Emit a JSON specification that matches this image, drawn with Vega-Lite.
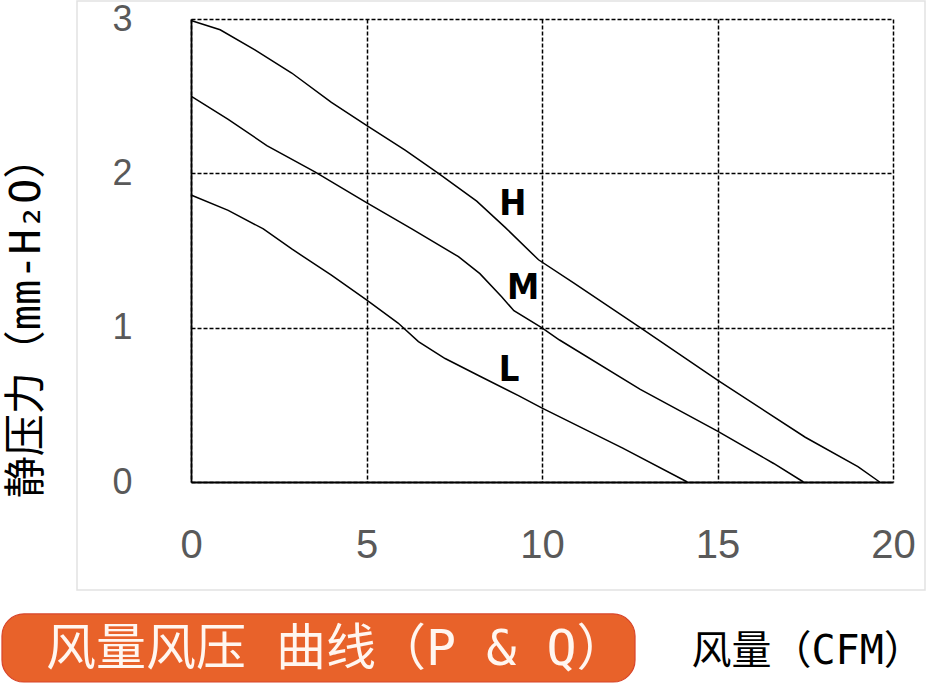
{
  "$schema": "https://vega.github.io/schema/vega-lite/v6.json",
  "width": 702,
  "height": 463,
  "autosize": {"type": "none"},
  "padding": {"left": 191, "top": 19, "right": 34, "bottom": 201},
  "background": "white",
  "config": {"view": {"stroke": null}},
  "datasets": {
    "curves": [
      {"series": "H", "q": 0, "p": 2.99},
      {"series": "H", "q": 0.83, "p": 2.93},
      {"series": "H", "q": 1.82, "p": 2.8},
      {"series": "H", "q": 2.87, "p": 2.65},
      {"series": "H", "q": 4.0, "p": 2.46},
      {"series": "H", "q": 5.0, "p": 2.31},
      {"series": "H", "q": 6.1, "p": 2.15},
      {"series": "H", "q": 7.05, "p": 2.0},
      {"series": "H", "q": 8.14, "p": 1.82},
      {"series": "H", "q": 8.95, "p": 1.65},
      {"series": "H", "q": 9.9, "p": 1.44},
      {"series": "H", "q": 10.9, "p": 1.29},
      {"series": "H", "q": 12.8, "p": 1.0},
      {"series": "H", "q": 15.0, "p": 0.66},
      {"series": "H", "q": 17.5, "p": 0.29},
      {"series": "H", "q": 19.0, "p": 0.1},
      {"series": "H", "q": 19.62, "p": 0.0},
      {"series": "M", "q": 0, "p": 2.5},
      {"series": "M", "q": 1.06, "p": 2.35},
      {"series": "M", "q": 2.16, "p": 2.18},
      {"series": "M", "q": 3.53, "p": 2.01},
      {"series": "M", "q": 5.0, "p": 1.81},
      {"series": "M", "q": 6.29, "p": 1.64},
      {"series": "M", "q": 7.62, "p": 1.46},
      {"series": "M", "q": 8.23, "p": 1.35},
      {"series": "M", "q": 8.85, "p": 1.2},
      {"series": "M", "q": 9.2, "p": 1.11},
      {"series": "M", "q": 9.99, "p": 1.0},
      {"series": "M", "q": 10.5, "p": 0.92},
      {"series": "M", "q": 12.8, "p": 0.6},
      {"series": "M", "q": 15.0, "p": 0.33},
      {"series": "M", "q": 16.6, "p": 0.12},
      {"series": "M", "q": 17.45, "p": 0.0},
      {"series": "L", "q": 0, "p": 1.86},
      {"series": "L", "q": 1.06, "p": 1.76},
      {"series": "L", "q": 2.06, "p": 1.64},
      {"series": "L", "q": 2.87, "p": 1.51},
      {"series": "L", "q": 4.0, "p": 1.34},
      {"series": "L", "q": 5.0, "p": 1.18},
      {"series": "L", "q": 5.9, "p": 1.03},
      {"series": "L", "q": 6.48, "p": 0.91},
      {"series": "L", "q": 7.24, "p": 0.8},
      {"series": "L", "q": 8.19, "p": 0.69},
      {"series": "L", "q": 9.33, "p": 0.56},
      {"series": "L", "q": 9.99, "p": 0.48},
      {"series": "L", "q": 12.3, "p": 0.22},
      {"series": "L", "q": 14.14, "p": 0.0}
    ],
    "labels": [
      {"series": "H", "q": 9.17, "p": 1.8},
      {"series": "M", "q": 9.46, "p": 1.26},
      {"series": "L", "q": 9.06, "p": 0.726}
    ],
    "banner": [
      {"text": "风量风压 曲线（P & Q）"}
    ]
  },
  "layer": [
    {
      "data": {"values": [{"name": "panel"}]},
      "mark": {"type": "rect", "filled": false, "stroke": "#e2e2e2", "strokeWidth": 1.5},
      "encoding": {
        "x": {"datum": -3.248, "type": "quantitative"},
        "x2": {"datum": 20.912},
        "y": {"datum": 3.117, "type": "quantitative"},
        "y2": {"datum": -0.7}
      }
    },
    {
      "data": {"name": "curves"},
      "mark": {"type": "line", "color": "black", "strokeWidth": 1.5},
      "encoding": {
        "x": {
          "field": "q",
          "type": "quantitative",
          "scale": {"domain": [0, 20], "nice": false, "zero": false},
          "axis": {
            "values": [0, 5, 10, 15, 20],
            "format": "d",
            "domain": true,
            "domainColor": "black",
            "domainWidth": 1.8,
            "ticks": false,
            "grid": true,
            "gridColor": "black",
            "gridDash": [4, 2],
            "gridWidth": 1.5,
            "gridOpacity": 1,
            "labelFont": "Liberation Sans",
            "labelFontSize": 40,
            "labelColor": "#595959",
            "labelPadding": 43,
            "labelFlush": false,
            "labelOverlap": false,
            "title": "风量（CFM）",
            "titleFont": "DejaVu Sans Mono, Noto Sans CJK SC",
            "titleFontSize": 40,
            "titleFontWeight": "normal",
            "titleColor": "black",
            "titleX": 500,
            "titleY": 169,
            "titleAlign": "left",
            "titleAnchor": null,
            "titleBaseline": "middle",
            "titleAngle": 0
          }
        },
        "y": {
          "field": "p",
          "type": "quantitative",
          "scale": {"domain": [0, 3], "nice": false, "zero": false},
          "axis": {
            "values": [0, 1, 2, 3],
            "format": "d",
            "domain": true,
            "domainColor": "black",
            "domainWidth": 1.8,
            "ticks": false,
            "grid": true,
            "gridColor": "black",
            "gridDash": [4, 2],
            "gridWidth": 1.5,
            "gridOpacity": 1,
            "labelFont": "Liberation Sans",
            "labelFontSize": 36,
            "labelColor": "#595959",
            "labelPadding": 59,
            "labelFlush": false,
            "labelOverlap": false,
            "labelAlign": "right",
            "labelBaseline": "middle",
            "title": "静压力（mm-H₂O）",
            "titleFont": "DejaVu Sans Mono, Noto Sans CJK SC",
            "titleFontSize": 42,
            "titleFontWeight": "normal",
            "titleColor": "black",
            "titleX": -165,
            "titleY": 298,
            "titleAlign": "center",
            "titleAnchor": null,
            "titleBaseline": "middle",
            "titleAngle": -90
          }
        },
        "detail": {"field": "series"}
      }
    },
    {
      "data": {"name": "labels"},
      "mark": {"type": "text", "font": "DejaVu Sans Condensed, Liberation Sans Narrow, Liberation Sans", "fontWeight": "bold", "fontSize": 36, "color": "black", "align": "center", "baseline": "middle"},
      "encoding": {
        "x": {"field": "q", "type": "quantitative"},
        "y": {"field": "p", "type": "quantitative"},
        "text": {"field": "series"}
      }
    },
    {
      "data": {"name": "banner"},
      "mark": {"type": "rect", "fill": "#E8622A", "stroke": "#D8452B", "strokeWidth": 1.2, "cornerRadius": 22},
      "encoding": {
        "x": {"datum": -5.385, "type": "quantitative"},
        "x2": {"datum": 12.65},
        "y": {"datum": -0.855, "type": "quantitative"},
        "y2": {"datum": -1.296}
      }
    },
    {
      "data": {"name": "banner"},
      "mark": {"type": "text", "font": "DejaVu Sans Mono, Noto Sans CJK SC", "fontSize": 50, "color": "#FFF6F0", "align": "left", "baseline": "middle"},
      "encoding": {
        "x": {"datum": -4.131, "type": "quantitative"},
        "y": {"datum": -1.089, "type": "quantitative"},
        "text": {"field": "text"}
      }
    }
  ]
}
